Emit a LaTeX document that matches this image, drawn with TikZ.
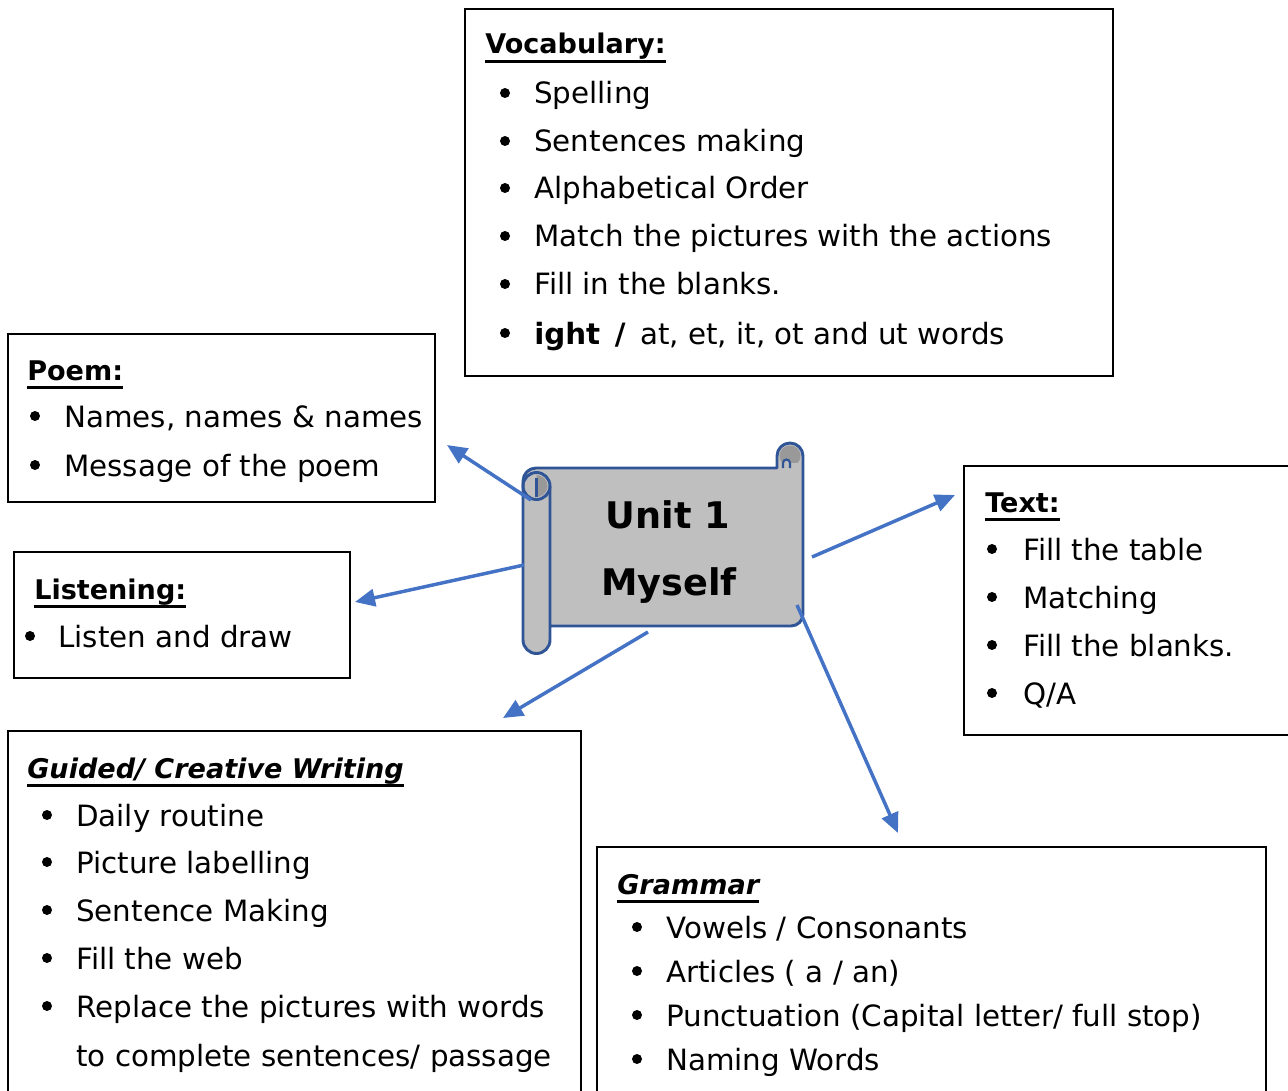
\documentclass[tikz,border=0pt]{standalone}
\usepackage{fontspec}
\setmainfont{DejaVu Sans}
\usetikzlibrary{arrows.meta,fit}
\definecolor{arrowblue}{HTML}{4472C4}
\definecolor{scrolledge}{HTML}{2F5597}
\definecolor{scrollfill}{HTML}{BFBFBF}
\definecolor{scrolldark}{HTML}{999999}

% one bulleted line: name, bullet x, text x, baseline y, text
\newcommand\listline[5]{%
  \fill (#2,#4+11) circle (5);
  \node[itemtext] (#1) at (#3,#4) {#5};}
% a plain continuation line: name, text x, baseline y, text
\newcommand\contline[4]{\node[itemtext] (#1) at (#2,#3) {#4};}
% underlined heading: name, x, baseline y, style, text
\newcommand\boxtitle[5]{%
  \node[#4] (#1) at (#2,#3) {#5};
  \draw[line width=2.2pt] ([yshift=-5.3pt]#1.base west) -- ([yshift=-5.3pt]#1.base east);}

\begin{document}
\begin{tikzpicture}[x=0.75pt,y=0.75pt,
  box/.style={draw=black, line width=1pt, inner sep=0pt},
  itemtext/.style={font=\fontsize{22}{26}\selectfont, inner sep=0pt, anchor=base west},
  titletext/.style={font=\fontsize{20.3}{24}\selectfont\bfseries, inner sep=0pt, anchor=base west},
  titleslant/.style={font=\fontsize{20.3}{24}\selectfont\bfseries\itshape, inner sep=0pt, anchor=base west},
  scrolltext/.style={font=\fontsize{27.5}{33}\selectfont\bfseries, inner sep=0pt, anchor=base},
  linkarrow/.style={draw=arrowblue, line width=2.6pt, -{Triangle[length=15pt,width=13pt]}},
  edge/.style={draw=scrolledge, line width=2.2pt, line join=round}]

\useasboundingbox (0,0) rectangle (1288,-1091);

% ---------- boxes ----------
\node[box, fit={(465,-9) (1113,-376)}] (vocab) {};
\node[box, fit={(8,-334) (435,-502)}] (poem) {};
\node[box, fit={(14,-552) (350,-678)}] (listen) {};
\node[box, fit={(8,-731) (581,-1096)}] (writing) {};
\node[box, fit={(964,-466) (1293,-735)}] (textbox) {};
\node[box, fit={(597,-847) (1266,-1096)}] (grammar) {};

% ---------- Vocabulary ----------
\boxtitle{vt}{485}{-54}{titletext}{Vocabulary:}
\listline{v1}{505}{534}{-104}{Spelling}
\listline{v2}{505}{534}{-152}{Sentences making}
\listline{v3}{505}{534}{-199}{Alphabetical Order}
\listline{v4}{505}{534}{-247}{Match the pictures with the actions}
\listline{v5}{505}{534}{-295}{Fill in the blanks.}
\listline{v6}{505}{534}{-344}{\textbf{ight\enspace/}\enspace at, et, it, ot and ut words}

% ---------- Poem ----------
\boxtitle{pt}{27}{-380}{titletext}{Poem:}
\listline{p1}{35}{64}{-427}{Names, names \& names}
\listline{p2}{35}{64}{-476}{Message of the poem}

% ---------- Listening ----------
\boxtitle{lt}{34}{-599}{titletext}{Listening:}
\listline{l1}{30}{58}{-647}{Listen and draw}

% ---------- Text ----------
\boxtitle{tt}{985}{-512}{titletext}{Text:}
\listline{t1}{992}{1023}{-560}{Fill the table}
\listline{t2}{992}{1023}{-608}{Matching}
\listline{t3}{992}{1023}{-656}{Fill the blanks.}
\listline{t4}{992}{1023}{-704}{Q/A}

% ---------- Guided / Creative Writing ----------
\boxtitle{wt}{27}{-778}{titleslant}{Guided/ Creative Writing}
\listline{w1}{47}{76}{-826}{Daily routine}
\listline{w2}{47}{76}{-873}{Picture labelling}
\listline{w3}{47}{76}{-921}{Sentence Making}
\listline{w4}{47}{76}{-969}{Fill the web}
\listline{w5}{47}{76}{-1017}{Replace the pictures with words}
\contline{w6}{76}{-1066}{to complete sentences/ passage}

% ---------- Grammar ----------
\boxtitle{gt}{617}{-894}{titleslant}{Grammar}
\listline{g1}{637}{666}{-938}{Vowels / Consonants}
\listline{g2}{637}{666}{-982}{Articles ( a / an)}
\listline{g3}{637}{666}{-1026}{Punctuation (Capital letter/ full stop)}
\listline{g4}{637}{666}{-1070}{Naming Words}

% ---------- central scroll ----------
\fill[scrollfill] (550,-626) -- (791,-626) arc[start angle=-90,end angle=0,radius=12]
  -- (803,-456) arc[start angle=0,end angle=180,radius=13] -- (777,-468)
  -- (536,-468) arc[start angle=90,end angle=180,radius=13] -- (523,-640)
  arc[start angle=180,end angle=360,radius=13.5] -- (550,-486) -- cycle;
% inner curl of the top-right roll
\fill[scrolldark] (790,-456) circle (10.5);
\fill[scrollfill] (783,-463) rectangle (802,-468);
\filldraw[fill=scrollfill, draw=scrolledge, line width=1.6pt]
  (783,-468) -- (783,-463) arc[start angle=180,end angle=0,radius=3.5] -- (790,-468);
% outline of sheet and rolls
\draw[edge] (550,-626) -- (791,-626) arc[start angle=-90,end angle=0,radius=12]
  -- (803,-456) arc[start angle=0,end angle=180,radius=13] -- (777,-468)
  -- (536,-468) arc[start angle=90,end angle=180,radius=13] -- (523,-640)
  arc[start angle=180,end angle=360,radius=13.5] -- (550,-486);
% inner curl of the left roll
\fill[scrolldark] (536.5,-475) arc[start angle=90,end angle=-90,radius=11] -- cycle;
\draw[edge] (536.5,-486) circle (13.5);
\draw[edge, line width=1.8pt] (536.5,-478) -- (536.5,-497);

\node[fit={(523,-443) (803,-653)}, inner sep=0pt] (scroll) {};
\node[scrolltext] (unit) at (668,-528) {Unit 1};
\node[scrolltext] (myself) at (669,-595) {Myself};

% ---------- connectors ----------
\coordinate (sPoem) at (531,-500);   \coordinate (ePoem) at (447,-445);
\coordinate (sListen) at (524,-565); \coordinate (eListen) at (355,-602);
\coordinate (sWrite) at (648,-632);  \coordinate (eWrite) at (503,-718);
\coordinate (sText) at (812,-557);   \coordinate (eText) at (955,-495);
\coordinate (sGram) at (797,-605);   \coordinate (eGram) at (898,-833);

\draw[linkarrow] (sPoem) -- (ePoem);
\draw[linkarrow] (sListen) -- (eListen);
\draw[linkarrow] (sWrite) -- (eWrite);
\draw[linkarrow] (sText) -- (eText);
\draw[linkarrow] (sGram) -- (eGram);
\end{tikzpicture}
\end{document}
